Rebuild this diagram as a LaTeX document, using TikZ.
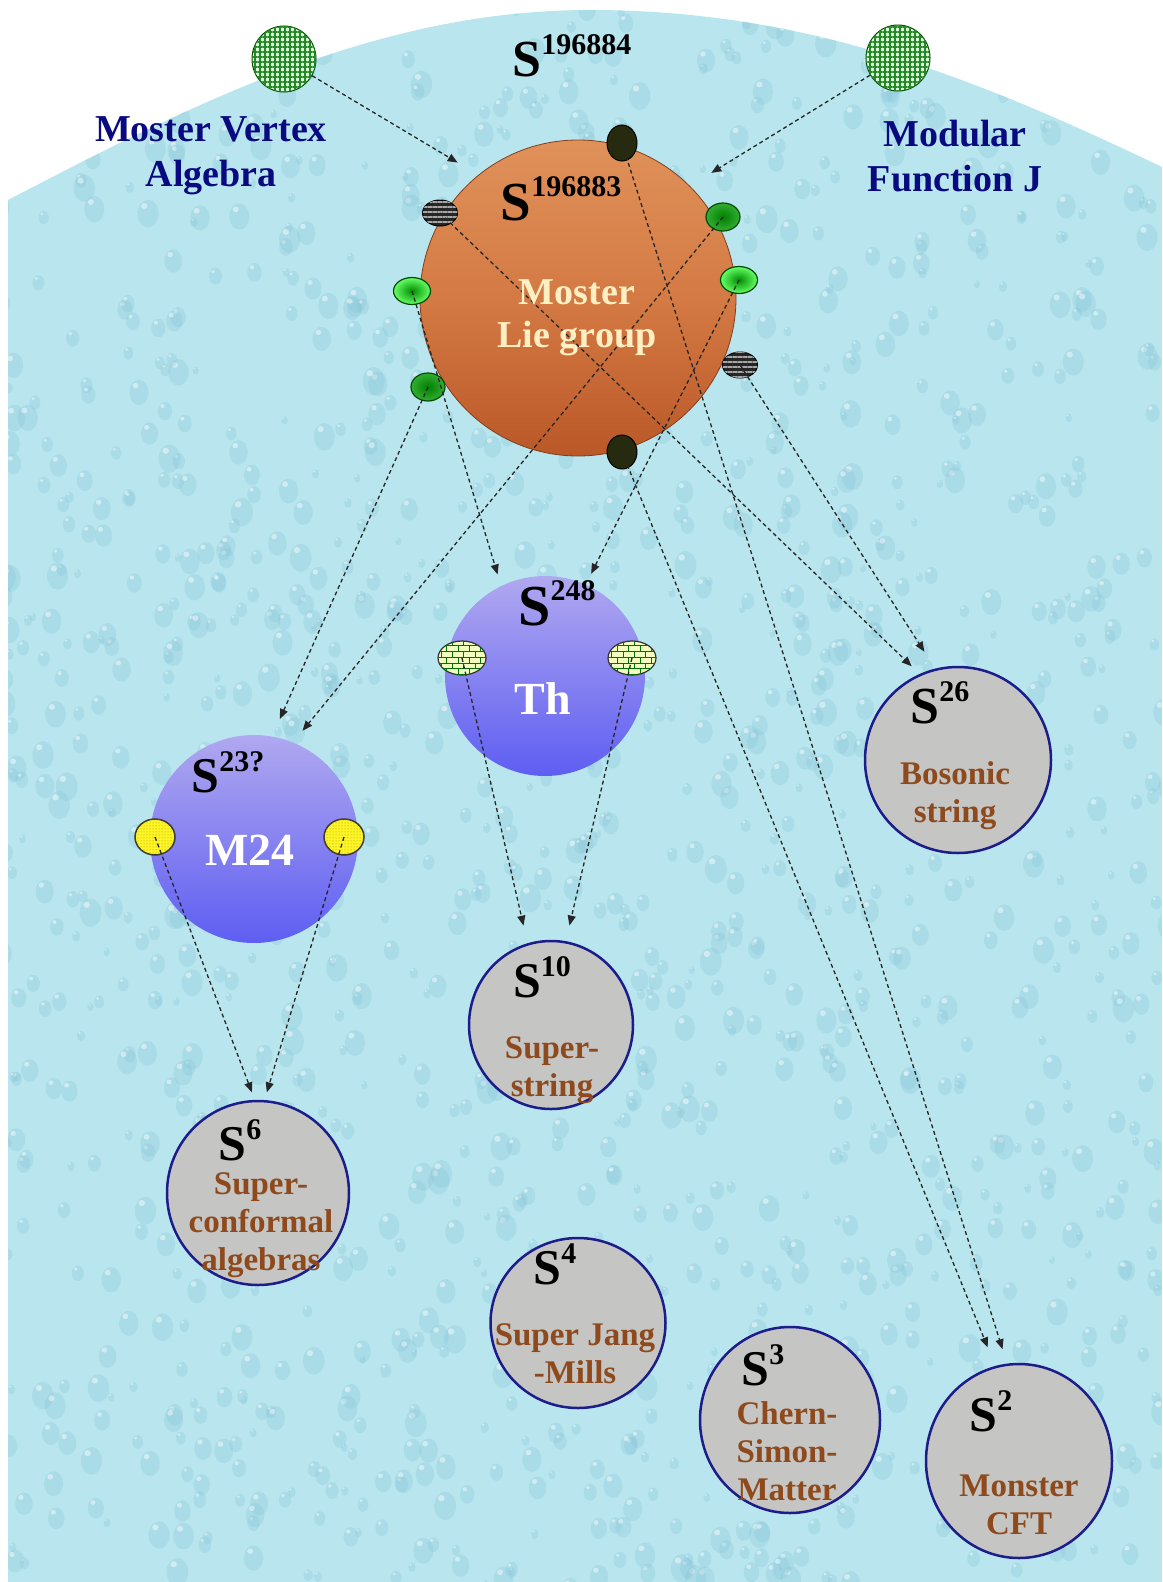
\documentclass[tikz,border=0pt]{standalone}
\usepackage{fontspec}
\setmainfont{Liberation Serif}
\usetikzlibrary{arrows.meta,shapes.geometric,patterns,patterns.meta}
\definecolor{sky}{HTML}{B9E6EE}
\definecolor{drop}{HTML}{86C3D6}
\definecolor{navy}{HTML}{0A0A80}
\definecolor{rust}{HTML}{8E4A1C}
\definecolor{cream}{HTML}{FFF0C4}
\definecolor{rim}{HTML}{1C1C8A}
\definecolor{stone}{HTML}{C5C5C3}
\definecolor{ortop}{HTML}{E0915A}
\definecolor{ormid}{HTML}{D47A44}
\definecolor{orbot}{HTML}{BA5828}
\definecolor{vitop}{HTML}{B0A8F0}
\definecolor{vibot}{HTML}{5E5EF2}
\definecolor{soot}{HTML}{262B10}
\tikzset{
  dsh/.style={line width=1.3pt,dash pattern=on 4pt off 3pt,black!85,-{Triangle[length=10pt,width=8pt]}},
  orb/.style={circle,inner sep=0pt,minimum size=316pt,draw=orbot!70!black,line width=0.8pt,top color=ortop,bottom color=orbot,middle color=ormid},
  vio/.style={circle,inner sep=0pt,top color=vitop,bottom color=vibot},
  gry/.style={ellipse,inner sep=0pt,draw=rim,line width=2.5pt,fill=stone},
  blk/.style={ellipse,inner sep=0pt,minimum width=30pt,minimum height=36pt,draw=black,line width=1pt,fill=soot},
  stp/.style={ellipse,inner sep=0pt,minimum width=35pt,minimum height=26pt,draw=black,line width=1pt,fill=black!85,
    postaction={pattern={Lines[angle=0,distance=5pt,line width=1.8pt]},pattern color=gray!70}},
  grn/.style={ellipse,inner sep=0pt,minimum width=37pt,minimum height=27pt,draw=green!30!black,line width=1.2pt,inner color=green!55!black,outer color=green!60!white},
  dgr/.style={ellipse,inner sep=0pt,minimum width=34pt,minimum height=28pt,draw=green!30!black,line width=1.2pt,inner color=green!50!black,outer color=green!60!black!80!white},
  grd/.style={ellipse,inner sep=0pt,minimum width=64pt,minimum height=66pt,draw=green!30!black,line width=1pt,fill=green!15!white,
    postaction={pattern={Hatch[angle=0,distance=5pt,line width=1.8pt]},pattern color=green!45!black!85!white}},
  brk/.style={ellipse,inner sep=0pt,minimum width=48pt,minimum height=34pt,draw=black!80,line width=1.2pt,fill=green!20!yellow!25!white,
    postaction={pattern=bricks,pattern color=green!45!black}},
  ylw/.style={ellipse,inner sep=0pt,minimum width=40pt,minimum height=36pt,draw=black!75!olive,line width=1.5pt,fill=yellow!85!white,
    postaction={pattern=dots,pattern color=olive!80}},
  dl/.style={font=\fontsize{#1}{#1}\selectfont\bfseries,anchor=base,inner sep=0pt},
  dl/.default=52,
  nt/.style={font=\fontsize{38}{45}\selectfont\bfseries,text=navy,align=center,inner sep=0pt},
  bt/.style={font=\fontsize{33}{38}\selectfont\bfseries,text=rust,align=center,inner sep=0pt}
}
\newcommand{\sdim}[1]{S\raisebox{.42em}{\fontsize{30}{30}\selectfont#1}}

\begin{document}
\begin{tikzpicture}[x=1pt,y=-1pt]
\useasboundingbox (0,0) rectangle (1162,1582);
\fill[white] (0,0) rectangle (1162,1582);
% the dome with its drops
\begin{scope}
\clip (8,1582) -- (8,200) .. controls (200,100) and (380,10) .. (590,10) .. controls (810,10) and (980,80) .. (1162,167) -- (1162,1582) -- cycle;
\fill[sky] (0,0) rectangle (1162,1582);
\pgfmathsetseed{7}
\foreach \k in {1,...,1500}{
  \pgfmathsetmacro\dx{rnd*1170}
  \pgfmathsetmacro\dy{rnd*1590}
  \pgfmathsetmacro\dr{3+rnd*8}
  \pgfmathsetmacro\dh{1.3*\dr}
  \fill[drop,opacity=.28] (\dx,\dy) ellipse [x radius=\dr pt,y radius=\dh pt];
  \fill[white,opacity=.45] (\dx-.35*\dr,\dy-.55*\dh) ellipse [x radius=.3*\dr pt,y radius=.22*\dh pt];
}
\end{scope}
% spheres
\node[orb] (lie) at (578,298) {};
\node[vio,minimum size=200pt] (th) at (545,676) {};
\node[vio,minimum size=208pt] (m24) at (254,839) {};
\node[gry,minimum width=186pt,minimum height=186pt] (bos) at (958,760) {};
\node[gry,minimum width=164pt,minimum height=168pt] (s10) at (551,1025) {};
\node[gry,minimum width=182pt,minimum height=184pt] (s6) at (258,1193) {};
\node[gry,minimum width=175pt,minimum height=170pt] (s4) at (578,1323) {};
\node[gry,minimum width=180pt,minimum height=186pt] (s3) at (790,1420) {};
\node[gry,minimum width=186pt,minimum height=194pt] (s2) at (1019,1461) {};
% small ellipses
\node[grd] (vtx) at (284,59) {};
\node[grd] (jfn) at (898,58) {};
\node[blk] (dt) at (622,143) {};
\node[blk,minimum height=34pt] (db) at (622,452) {};
\node[stp] (sl) at (440,213) {};
\node[stp] (sr) at (740,365) {};
\node[grn] (gl) at (412,291) {};
\node[grn] (gr) at (739,280) {};
\node[dgr] (gll) at (428,387) {};
\node[dgr] (gru) at (723,217) {};
\node[brk] (thl) at (462,658) {};
\node[brk] (thr) at (632,658) {};
\node[ylw] (ml) at (155,837) {};
\node[ylw] (mr) at (344,837) {};
% links
\draw[dsh,shorten >=24pt] (vtx) -- (lie.129);
\draw[dsh,shorten >=25pt] (jfn) -- (lie.45);
\draw[dsh,shorten >=11pt] (sl.center) -- (bos.114);
\draw[dsh,shorten >=20pt] (sr.center) -- (bos.104);
\draw[dsh,shorten >=15pt] (dt.center) -- (s2.97);
\draw[dsh,shorten >=20pt] (db.center) -- (s2.104);
\draw[dsh,shorten >=12pt] (gl.center) -- (th.116);
\draw[dsh,shorten >=12pt] (gr.center) -- (th.66);
\draw[dsh,shorten >=19pt] (gll.center) -- (m24.80);
\draw[dsh,shorten >=15pt] (gru.center) -- (m24.68);
\draw[dsh,shorten >=18pt] (thl.center) -- (s10.106);
\draw[dsh,shorten >=16pt] (thr.center) -- (s10.80);
\draw[dsh,shorten >=8pt] (ml.center) -- (s6.92);
\draw[dsh,shorten >=8pt] (mr.center) -- (s6.86);
% labels
\node[nt] (mva) at (211,156) {Moster Vertex\\Algebra};
\node[nt] (mfj) at (955,156) {Modular\\Function J};
\node[nt,text=cream,font=\fontsize{38}{43}\selectfont\bfseries] (mlg) at (577,318) {Moster\\Lie group};
\node[dl] (t0) at (572,76) {\sdim{196884}};
\node[dl=55] (t1) at (561,220) {\sdim{196883}};
\node[dl=58] (t2) at (557,625) {\sdim{248}};
\node[dl=50] (t3) at (228,792) {\sdim{23?}};
\node[dl] (t4) at (940,723) {\sdim{26}};
\node[dl=50] (t5) at (542,997) {\sdim{10}};
\node[dl=50] (t6) at (240,1160) {\sdim{6}};
\node[dl=50] (t7) at (555,1284) {\sdim{4}};
\node[dl=50] (t8) at (763,1385) {\sdim{3}};
\node[dl=50] (t9) at (991,1431) {\sdim{2}};
\node[dl=46,text=white] (thn) at (543,714) {Th};
\node[dl=46,text=white] (mn) at (250,865) {M24};
\node[bt] (w1) at (955,796) {Bosonic\\string};
\node[bt] (w2) at (552,1070) {Super-\\string};
\node[bt] (w3) at (261,1225) {Super-\\conformal\\algebras};
\node[bt] (w4) at (575,1354) {Super Jang\\-Mills};
\node[bt] (w5) at (787,1451) {Chern-\\Simon-\\Matter};
\node[bt] (w6) at (1019,1505) {Monster\\CFT};
\end{tikzpicture}
\end{document}
